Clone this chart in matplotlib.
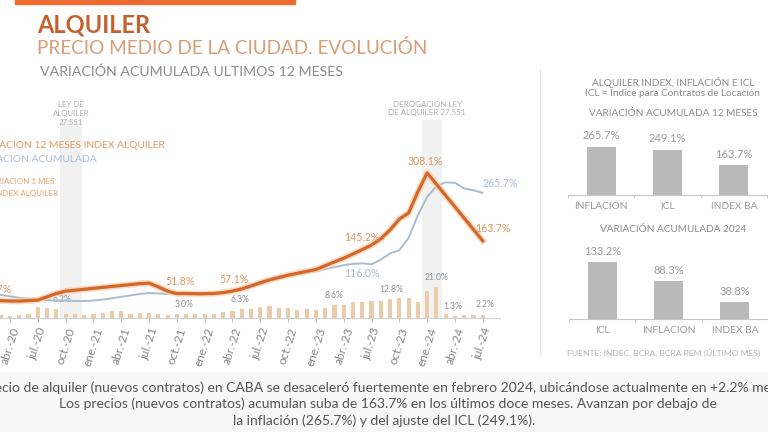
import matplotlib
matplotlib.use("Agg")
import matplotlib.pyplot as plt
from matplotlib.patches import Rectangle
from matplotlib.lines import Line2D

plt.rcParams['font.family'] = ['Lato', 'DejaVu Sans']

W, H = 768, 432


def fx(px):
    return px / W


def fy(py):
    return 1 - py / H


# ---- data: monthly series ene-20 .. jul-24 (index 0..54)
idx_12m = [40, 38, 36.7, 36, 36, 37, 38, 45, 52, 57, 59, 61,
           63, 65, 67, 69, 71, 73, 74, 66, 57, 51.8, 52, 51.5,
           51.5, 52, 54, 57.1, 62, 68, 75, 81, 86, 91, 95, 99,
           103, 111, 119, 127, 136, 145.2, 155, 168, 187, 210, 223, 268,
           308.1, 284, 260, 236, 212, 188, 163.7]
infl_12m = [53, 51, 49, 46, 43, 41, 39, 38, 37, 37, 36, 36,
            37, 39, 42, 45, 48, 51, 53, 52, 51, 51, 51, 50,
            50, 51, 54, 56, 61, 66, 72, 78, 83, 88, 92, 96,
            99, 104, 108, 112, 115, 116, 114, 124, 137, 144, 170, 218,
            257, 280, 288, 287, 275, 271, 265.7]
idx_1m = [2, 2, 2.0, 1.5, 2.0, 2.5, 7.5, 6.5, 6.2, 3.0, 2.5, 2.0,
          2.5, 3.5, 4.5, 4.5, 3.0, 3.5, 3.5, 2.5, 2.0, 3.0, 2.5, 2.5,
          3.0, 3.0, 4.0, 5.0, 6.3, 6.0, 7.3, 8.2, 7.0, 6.7, 5.3, 6.0,
          5.3, 7.0, 8.6, 8.8, 10.5, 11.0, 11.5, 11.5, 12.8, 13.3, 13.5, 10.5,
          18.0, 21.0, 3.0, 1.3, 2.0, 2.0, 2.2]
months = list(range(len(idx_12m)))
mes_abbr = ['ene.', 'abr.', 'jul.', 'oct.']
tick_pos = list(range(3, 55, 3))
tick_lab = [f"{mes_abbr[(m % 12) // 3]}-{20 + m // 12}" for m in tick_pos]

# labels on the lines (month, series, text)
line_labels = [(2, 'o', '36.7%'), (21, 'o', '51.8%'), (27, 'o', '57.1%'),
               (41, 'o', '145.2%'), (48, 'o', '308.1%'), (54, 'o', '163.7%'),
               (41, 'b', '116.0%'), (54, 'b', '265.7%')]
bar_labels = [(8, '6.2%'), (21, '3.0%'), (28, '6.3%'), (38, '8.6%'),
              (44, '12.8%'), (49, '21.0%'), (51, '1.3%'), (54, '2.2%')]

cats_12m = ['INFLACION', 'ICL', 'INDEX BA']
vals_12m = [265.7, 249.1, 163.7]
cats_2024 = ['ICL', 'INFLACION', 'INDEX BA']
vals_2024 = [133.2, 88.3, 38.8]

ORANGE = '#D4672B'
GLOW = '#F8D3AF'
BLUE = '#A9BCD2'
BARC = '#EBCBA8'
GREY = '#8C8C8C'

fig = plt.figure(figsize=(W / 100, H / 100), dpi=100)
fig.patch.set_facecolor('white')

# bottom strip and top orange bar
fig.patches.append(Rectangle((0, 0), 1, fy(372), transform=fig.transFigure,
                             color='#F8F8F8', zorder=0))
fig.patches.append(Rectangle((fx(15), fy(4)), fx(280), 4 / H,
                             transform=fig.transFigure, color='#EE6B2F', zorder=1))

# titles
fig.text(fx(37), fy(25), 'ALQUILER', fontsize=17, fontweight='bold',
         color='#C4612F', va='center')
fig.text(fx(37), fy(48), 'PRECIO MEDIO DE LA CIUDAD. EVOLUCIÓN', fontsize=13.6,
         color='#D99E75', va='center')
fig.text(fx(40), fy(72), 'VARIACIÓN ACUMULADA ULTIMOS 12 MESES', fontsize=10.2,
         color=GREY, va='center')

# ---- main chart
ax = fig.add_axes([0, fy(318), fx(500), (318 - 90) / H])
ax.set_xlim(1.92, 55.86)
ax.set_ylim(0, 484)
ax.patch.set_alpha(0)
ax2 = ax.twinx()
ax2.set_ylim(0, 152)
ax.set_zorder(2)
ax2.set_zorder(1)

for a, b in [(8.4, 10.8), (47.4, 49.6)]:
    ax2.axvspan(a, b, ymin=0, ymax=0.87, color='#F1F1F1', zorder=0, lw=0)

ax2.bar(months, idx_1m, width=0.45, color=BARC, zorder=2)

ax.plot(months, infl_12m, color=BLUE, lw=1.4, zorder=3, solid_capstyle='round')
ax.plot(months, idx_12m, color=GLOW, lw=4.6, alpha=0.8, zorder=4, solid_joinstyle='round')
ax.plot(months, idx_12m, color=ORANGE, lw=2.3, zorder=5, solid_joinstyle='round')

offsets = {(2, 'o'): (-4, 11), (21, 'o'): (3, 12), (27, 'o'): (2, 12),
           (41, 'o'): (0, 12), (48, 'o'): (-2, 11), (54, 'o'): (10, 12),
           (41, 'b'): (0, -10), (54, 'b'): (17, 9)}
for m, s, t in line_labels:
    v = idx_12m[m] if s == 'o' else infl_12m[m]
    dx, dy = offsets[(m, s)]
    ax.annotate(t, (m, v), xytext=(dx * 0.72, dy * 0.72), textcoords='offset points',
                ha='center', va='center', fontsize=7.6,
                color='#E0965C' if s == 'o' else BLUE, zorder=6)

bar_off = {8: (6, 9), 21: (7, 9), 28: (-2, 9), 38: (0, 10), 44: (1, 9),
           49: (0, 9), 51: (-2, 10), 54: (2, 10)}
for m, t in bar_labels:
    dx, dy = bar_off[m]
    ax2.annotate(t, (m, idx_1m[m]), xytext=(dx * 0.72, dy * 0.72),
                 textcoords='offset points', ha='center', va='center',
                 fontsize=6.2, color='#8E9097')

for a in (ax, ax2):
    for sp in a.spines.values():
        sp.set_visible(False)
    a.set_yticks([])
ax.spines['bottom'].set_visible(True)
ax.spines['bottom'].set_color('#D0D0D0')
ax.spines['bottom'].set_linewidth(0.8)
ax.set_xticks(tick_pos)
ax.set_xticklabels(tick_lab, rotation=72, ha='center', va='top',
                   fontsize=8.6, color='#858585')
ax.tick_params(axis='x', length=3, color='#BBBBBB', pad=3)

# annotations of laws
ax.text(8.4 + 1.2, 408, 'LEY DE\nALQUILER\n27.551', ha='center', va='bottom',
        fontsize=5.6, color='#B0B0B0', linespacing=1.35)
ax.text(48.0, 428, 'DEROGACION LEY\nDE ALQUILER 27.551', ha='center', va='bottom',
        fontsize=5.8, color='#B0B0B0', linespacing=1.2)

# legend-like labels (cut at the left edge)
fig.text(fx(165), fy(145), 'VARIACION 12 MESES INDEX ALQUILER', ha='right',
         va='center', fontsize=7.4, color='#E39A5E')
fig.text(fx(97), fy(159), 'VARIACION ACUMULADA', ha='right', va='center',
         fontsize=7.4, color=BLUE)
fig.text(fx(55), fy(182), 'VARIACION 1 MES', ha='right', va='center',
         fontsize=5.8, color='#E8A46A')
fig.text(fx(58), fy(193), 'INDEX ALQUILER', ha='right', va='center',
         fontsize=5.8, color='#E8A46A')

# separator
fig.add_artist(Line2D([fx(540), fx(540)], [fy(70), fy(356)],
                      transform=fig.transFigure, color='#E6E6E6', lw=0.8))

# ---- right panel
fig.text(fx(673), fy(83), 'ALQUILER INDEX, INFLACIÓN E ICL', ha='center',
         va='center', fontsize=7.2, color=GREY)
fig.text(fx(672), fy(93), 'ICL = Índice para Contratos de Locación', ha='center',
         va='center', fontsize=7.2, color=GREY)
fig.text(fx(673), fy(113), 'VARIACIÓN ACUMULADA 12 MESES', ha='center',
         va='center', fontsize=7.2, color=GREY)
fig.text(fx(673), fy(230), 'VARIACIÓN ACUMULADA 2024', ha='center',
         va='center', fontsize=7.2, color=GREY)
fig.text(fx(664), fy(353), 'FUENTE: INDEC, BCRA, BCRA REM (ÚLTIMO MES)',
         ha='center', va='center', fontsize=6.1, color='#B4B4B4')


def small_bars(rect, cats, vals, ymax):
    a = fig.add_axes(rect)
    a.bar(range(len(cats)), vals, width=0.44, color='#B9B9B9')
    a.set_xlim(-0.5, 2.5)
    a.set_ylim(0, ymax)
    for sp in a.spines.values():
        sp.set_visible(False)
    a.spines['bottom'].set_visible(True)
    a.spines['bottom'].set_color('#C8C8C8')
    a.spines['bottom'].set_linewidth(0.8)
    a.set_yticks([])
    a.set_xticks(range(len(cats)))
    a.set_xticklabels(cats, fontsize=7.3, color='#9A9A9A')
    a.tick_params(axis='x', length=0, pad=5)
    a.set_xticks([-0.5, 0.5, 1.5, 2.5], minor=True)
    a.tick_params(axis='x', which='minor', length=2, color='#C8C8C8')
    for i, v in enumerate(vals):
        a.annotate(f'{v:.1f}%', (i, v), xytext=(0, 8), textcoords='offset points',
                   ha='center', va='center', fontsize=8, color='#9A9A9A')
    a.patch.set_alpha(0)
    return a


small_bars([fx(568), fy(195), fx(199), 70 / H], cats_12m, vals_12m, 70 / 0.1807)
small_bars([fx(569), fy(319), fx(199), 74 / H], cats_2024, vals_2024, 74 / 0.427)

# ---- bottom text
fig.text(fx(386), fy(388),
         'El precio de alquiler (nuevos contratos) en CABA se desaceleró fuertemente '
         'en febrero 2024, ubicándose actualmente en +2.2% mensual.',
         ha='center', va='center', fontsize=10, color='#555555')
fig.text(fx(388), fy(404),
         'Los precios (nuevos contratos) acumulan suba de 163.7% en los últimos doce '
         'meses. Avanzan por debajo de',
         ha='center', va='center', fontsize=10, color='#555555')
fig.text(fx(384), fy(421), 'la inflación (265.7%) y del ajuste del ICL (249.1%).',
         ha='center', va='center', fontsize=10, color='#555555')

fig.savefig('out.png', dpi=100)
